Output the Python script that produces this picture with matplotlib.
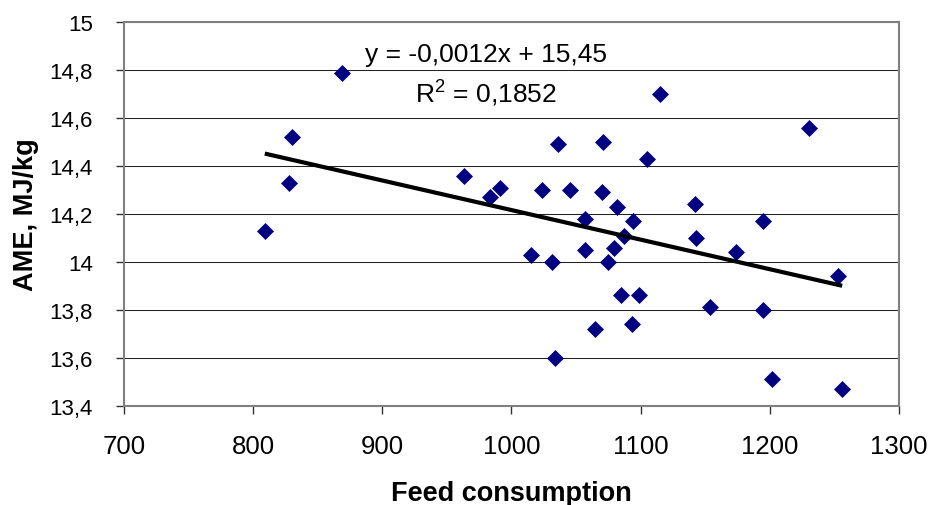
import numpy as np
import matplotlib
matplotlib.use('Agg')
import matplotlib.pyplot as plt
from matplotlib.ticker import FuncFormatter, MultipleLocator

plt.rcParams['font.family'] = ['Liberation Sans', 'DejaVu Sans']
plt.rcParams['mathtext.fontset'] = 'custom'
plt.rcParams['mathtext.rm'] = 'Liberation Sans'

# feed consumption vs AME
feed = [809, 828, 830, 869, 963, 983, 991, 1015, 1024, 1031, 1034, 1036,
        1045, 1057, 1057, 1065, 1070, 1071, 1075, 1079, 1082, 1085, 1087,
        1093, 1094, 1099, 1105, 1115, 1142, 1143, 1154, 1174, 1195, 1195,
        1202, 1230, 1253, 1256]
ame = [14.13, 14.33, 14.52, 14.79, 14.36, 14.27, 14.31, 14.03, 14.30, 14.00,
       13.60, 14.49, 14.30, 14.18, 14.05, 13.72, 14.29, 14.50, 14.00, 14.06,
       14.23, 13.86, 14.11, 13.74, 14.17, 13.86, 14.43, 14.70, 14.24, 14.10,
       13.81, 14.04, 14.17, 13.80, 13.51, 14.56, 13.94, 13.47]

eq_text = 'y = -0,0012x + 15,45'
r2_text = 'R$^2$ = 0,1852'

fig = plt.figure(figsize=(9.31, 5.06), dpi=100)
ax = fig.add_axes([0.1332, 0.1962, 0.8324, 0.7578])

# grid first so points sit on top
ax.set_axisbelow(True)
ax.yaxis.grid(True, color='#222222', linewidth=0.75)

ax.plot(feed, ame, linestyle='none', marker='D', markersize=8,
        color='#000080', markeredgewidth=0.5, zorder=3)

# linear trend line
k, b = np.polyfit(feed, ame, 1)
xs = np.array([min(feed), max(feed)])
ax.plot(xs, k * xs + b, color='black', linewidth=3, zorder=4,
        solid_capstyle='butt')

ax.set_xlim(700, 1300)
ax.set_ylim(13.4, 15)
ax.xaxis.set_major_locator(MultipleLocator(100))
ax.yaxis.set_major_locator(MultipleLocator(0.2))
comma = FuncFormatter(lambda v, p: ('%g' % round(v, 2)).replace('.', ','))
ax.xaxis.set_major_formatter(comma)
ax.yaxis.set_major_formatter(comma)

for s in ax.spines.values():
    s.set_color('#808080')
    s.set_linewidth(1.5)

ax.tick_params(axis='x', direction='out', length=6, width=1, color='#333333',
               labelsize=18.5, pad=14.5)
ax.tick_params(axis='y', direction='out', length=6, width=1, color='#333333',
               labelsize=16, pad=16.5)

ax.set_xlabel('Feed consumption', fontsize=19.5, fontweight='bold')
ax.set_ylabel('AME, MJ/kg', fontsize=19.5, fontweight='bold')
ax.xaxis.set_label_coords(0.5, -0.195)
ax.yaxis.set_label_coords(-0.11, 0.5)

fig.text(0.522, 0.878, eq_text, ha='center', va='baseline', fontsize=19)
fig.text(0.522, 0.799, r2_text, ha='center', va='baseline', fontsize=19)

fig.savefig('out.png', dpi=100)
